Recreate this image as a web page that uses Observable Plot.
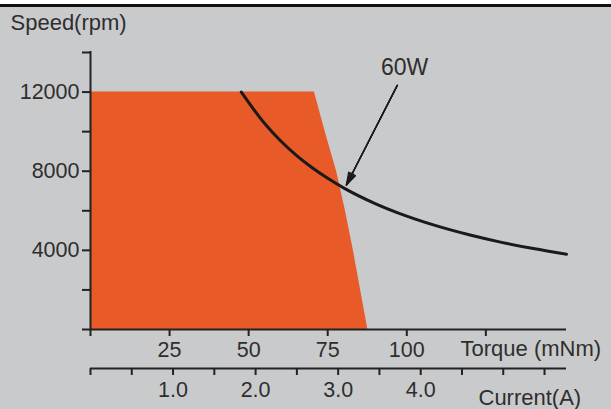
<!DOCTYPE html>
<html><head><meta charset="utf-8">
<script src="https://cdn.jsdelivr.net/npm/d3@7"></script>
<script src="https://cdn.jsdelivr.net/npm/@observablehq/plot@0.6"></script>
<style>
html,body{margin:0;padding:0;background:#fff;}
#chart{width:611px;height:409px;overflow:hidden;
background:linear-gradient(to bottom,#fff 0,#fff 4px,#111 4px,#111 7px,#c9cacc 7px);}
</style></head>
<body><div id="chart"></div>
<script>
// ---- data ----
const torqueTicks = [0, 25, 50, 75, 100, 125];
const torqueLabels = [25, 50, 75, 100];
const speedTicks = [0, 2000, 4000, 6000, 8000, 10000, 12000, 14000];
const speedLabels = [4000, 8000, 12000];
const currentTicks = [0, 0.5, 1, 1.5, 2, 2.5, 3, 3.5, 4, 4.5, 5, 5.5];
const currentLabels = [1, 2, 3, 4];
const torquePerAmp = 26.1; // mNm per A (current axis alignment)

// operating envelope (orange area)
const envTorque = [0, 70.8, 74.2, 77.8, 80.6, 83.1, 85.4, 87.7];
const envSpeed  = [12000, 12000, 10000, 8000, 6000, 4000, 2000, 0];

// 60W curve
const curveTorque = [47.7, 55, 60, 65, 70, 75, 80, 90, 100, 110, 120, 130, 140, 150.5];
const curveSpeed  = [12000, 10420, 9550, 8815, 8185, 7640, 7160, 6365, 5730, 5210, 4775, 4405, 4090, 3805];

// annotation
const arrowData = [{x1: 97, y1: 12340, x2: 80.9, y2: 7300}];
const noteData = [{torque: 99.3, speed: 13250, text: "60W"}];

const xDomain = [0, 150.5];
const yDomain = [0, 14000];

const envelope = envTorque.map((t, i) => ({torque: t, speed: envSpeed[i]}));
const curve = curveTorque.map((t, i) => ({torque: t, speed: curveSpeed[i]}));
const currentAsTorque = currentTicks.map(c => c * torquePerAmp);
const currentLabelMap = new Map(currentTicks.map(c => [c * torquePerAmp, currentLabels.includes(c) ? c.toFixed(1) : ""]));

const ink = "#222";
const txt = "#2e2e2e";
const orange = "#e85b29";
const fs = 21.5;

const chart = Plot.plot({
  width: 611,
  height: 409,
  marginLeft: 90,
  marginRight: 45,
  marginTop: 52,
  marginBottom: 80,
  style: {background: "transparent", fontFamily: "'Liberation Sans', Arial, sans-serif", fontSize: fs + "px", color: txt, overflow: "visible"},
  x: {domain: xDomain},
  y: {domain: yDomain},
  marks: [
    Plot.areaY(envelope, {x: "torque", y: "speed", fill: orange}),
    Plot.ruleY([0], {stroke: ink, strokeWidth: 2}),
    Plot.ruleX([0], {stroke: ink, strokeWidth: 2, strokeLinecap: "square"}),
    Plot.axisY(speedTicks, {anchor: "left", tickSize: 8, tickPadding: 3, strokeWidth: 2, stroke: ink, fill: txt, fontSize: fs, label: null,
      tickFormat: d => speedLabels.includes(d) ? String(d) : ""}),
    Plot.axisX(torqueTicks, {anchor: "bottom", tickSize: 7, tickPadding: 5, strokeWidth: 2, stroke: ink, fill: txt, fontSize: fs, label: null,
      tickFormat: d => torqueLabels.includes(d) ? String(d) : ""}),
    Plot.ruleY([0], {stroke: ink, strokeWidth: 2, dy: 39}),
    Plot.axisX(currentAsTorque, {anchor: "bottom", tickSize: 7, tickPadding: 6, strokeWidth: 2, stroke: ink, fill: txt, fontSize: fs, label: null, dy: 39,
      tickFormat: d => currentLabelMap.get(d) ?? ""}),
    Plot.line(curve, {x: "torque", y: "speed", stroke: "#1a1a1a", strokeWidth: 3, curve: "monotone-x"}),
    ...[34, 24, 14, 6].map(a => Plot.arrow(arrowData, {x1: "x1", y1: "y1", x2: "x2", y2: "y2", headLength: 15, headAngle: a, stroke: "#1a1a1a", strokeWidth: 1.3})),
    Plot.text(noteData, {x: "torque", y: "speed", text: "text", fontSize: 23, fill: txt}),
    Plot.text(["Speed(rpm)"], {frameAnchor: "top-left", lineAnchor: "middle", dx: -80, dy: -30, textAnchor: "start", fontSize: 22, fill: txt}),
    Plot.text(["Torque (mNm)"], {frameAnchor: "bottom-right", lineAnchor: "middle", dx: -106, dy: 19.5, textAnchor: "start", fontSize: 22, fill: txt}),
    Plot.text(["Current(A)"], {frameAnchor: "bottom-right", lineAnchor: "middle", dx: -88, dy: 68, textAnchor: "start", fontSize: 22, fill: txt})
  ]
});
document.getElementById("chart").appendChild(chart);
</script>
</body></html>
